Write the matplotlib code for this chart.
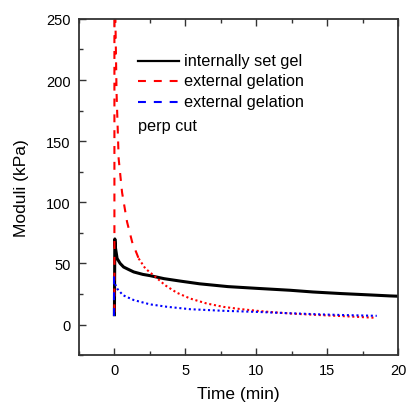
import matplotlib
matplotlib.use("Agg")
import matplotlib.pyplot as plt
from matplotlib.ticker import MultipleLocator

plt.rcParams['font.family'] = ['Liberation Sans', 'DejaVu Sans']

# internally set gel (black, solid)
t_int = [0.0, 0.03, 0.07, 0.19, 0.4, 0.65, 1.0, 1.36, 2.0, 2.5, 3.5, 4.65, 6.0, 8.0, 10.0, 12.4, 14.0, 16.0, 18.0, 19.4, 21.0]
v_int = [8, 70, 63, 54, 50, 47, 45, 43, 41, 40, 37.5, 35.5, 33.3, 31.0, 29.6, 28.0, 26.6, 25.3, 24.2, 23.4, 22.7]

# external gelation (red): dashed early part, dotted later part
t_ext_a = [0.0, 0.0, 0.05, 0.15, 0.3, 0.54, 0.89, 1.25, 1.71]
v_ext_a = [10, 280, 265, 190, 135.6, 108, 84, 67.5, 54]
t_ext_b = [1.71, 2.18, 2.89, 3.59, 4.4, 5.35, 6.5, 7.7, 8.9, 10.05, 11.2, 12.4, 13.5, 14.7, 16.0, 17.2, 18.4]
v_ext_b = [54, 45.8, 39, 32, 26, 21.2, 17.2, 14.4, 12.6, 11.2, 10.0, 9.0, 8.3, 7.6, 6.9, 6.2, 5.5]

# external gelation, perp cut (blue): dashed spike, dotted decay
t_perp_a = [0.0, 0.0]
v_perp_a = [7, 42]
t_perp_b = [0.05, 0.19, 0.6, 1.36, 2.5, 3.7, 5.35, 7.7, 10.05, 12.4, 14.7, 16.6, 18.5]
v_perp_b = [33, 29.4, 24, 20, 16.5, 14.5, 12.5, 11.2, 10.3, 9.2, 8.2, 7.6, 7.1]

legend_labels = ["internally set gel", "external gelation", "external gelation"]
legend_extra = "perp cut"

fig = plt.figure(figsize=(4.07, 4.06), dpi=100)
ax = fig.add_axes([0.194, 0.123, 0.784, 0.828])

ax.plot(t_int, v_int, color='black', lw=2.2, solid_joinstyle='round')
ax.plot(t_ext_a, v_ext_a, color='red', lw=1.5, linestyle=(0, (3.8, 3.8)))
ax.plot(t_ext_b, v_ext_b, color='red', lw=1.5, linestyle=(0, (1, 1.3)))
ax.plot(t_perp_a, v_perp_a, color='blue', lw=1.5, linestyle=(0, (3.8, 3.8)))
ax.plot(t_perp_b, v_perp_b, color='blue', lw=1.5, linestyle=(0, (1, 1.3)))

ax.set_xlim(-2.5, 20)
ax.set_ylim(-25, 250)
ax.xaxis.set_major_locator(MultipleLocator(5))
ax.xaxis.set_minor_locator(MultipleLocator(2.5))
ax.yaxis.set_major_locator(MultipleLocator(50))
ax.yaxis.set_minor_locator(MultipleLocator(25))

for s in ax.spines.values():
    s.set_linewidth(1.3)
    s.set_color('#333333')
ax.tick_params(which='both', direction='in', top=True, right=False, labelsize=10.5, color='#333333', width=1.0)
ax.tick_params(which='major', length=5, pad=6)
ax.tick_params(which='minor', length=3)

ax.set_xlabel('Time (min)', fontsize=12.5, labelpad=6)
ax.set_ylabel('Moduli (kPa)', fontsize=12.5, labelpad=12)

# legend drawn in axes coordinates
styles = [dict(color='black', lw=1.6, linestyle='-'),
          dict(color='red', lw=1.5, linestyle=(0, (3.8, 3.8))),
          dict(color='blue', lw=1.5, linestyle=(0, (3.8, 3.8)))]
ys = [0.876, 0.816, 0.753]
for lab, st, yy in zip(legend_labels, styles, ys):
    ax.plot([0.185, 0.313], [yy, yy], transform=ax.transAxes, **st)
    ax.text(0.329, yy, lab, transform=ax.transAxes, fontsize=11.7, va='center', ha='left')
ax.text(0.186, 0.684, legend_extra, transform=ax.transAxes, fontsize=11.7, va='center', ha='left')

fig.savefig('out.png', dpi=100)
